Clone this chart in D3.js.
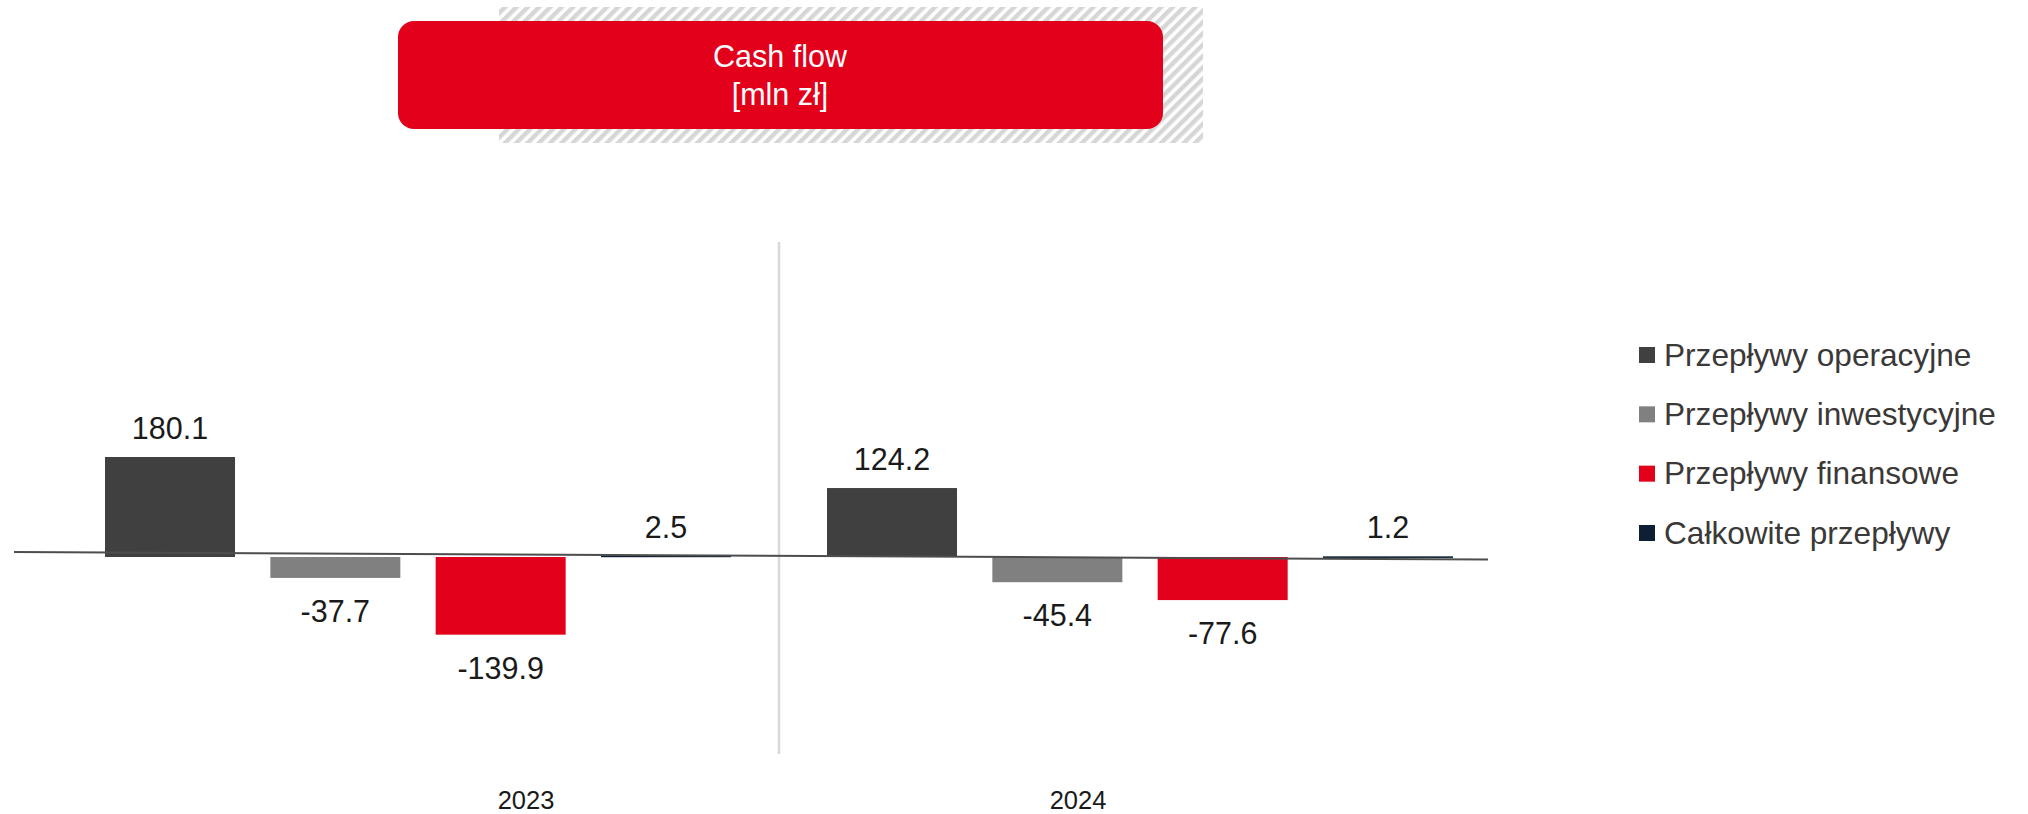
<!DOCTYPE html>
<html>
<head>
<meta charset="utf-8">
<script src="https://cdn.jsdelivr.net/npm/d3@7"></script>
<style>
  html, body { margin: 0; padding: 0; background: #ffffff; }
  svg { display: block; font-family: "Liberation Sans", Arial, sans-serif; }
</style>
</head>
<body>
<svg id="chart" width="2028" height="814"></svg>
<script>
// ---- data ----
const years = ["2023", "2024"];
const seriesNames = ["Przepływy operacyjne", "Przepływy inwestycyjne", "Przepływy finansowe", "Całkowite przepływy"];
const operacyjne = [180.1, 124.2];
const inwestycyjne = [-37.7, -45.4];
const finansowe = [-139.9, -77.6];
const calkowite = [2.5, 1.2];
const seriesColors = ["#404040", "#808080", "#e2001a", "#0c1f33"];
const titleLines = ["Cash flow", "[mln zł]"];

const seriesValues = [operacyjne, inwestycyjne, finansowe, calkowite];

const svg = d3.select("#chart");

// ---- title box ----
const defs = svg.append("defs");
const pat = defs.append("pattern")
  .attr("id", "hatch")
  .attr("patternUnits", "userSpaceOnUse")
  .attr("width", 8).attr("height", 8)
  .attr("patternTransform", "rotate(45)");
pat.append("rect").attr("width", 8).attr("height", 8).attr("fill", "#ffffff");
pat.append("rect").attr("width", 4.4).attr("height", 8).attr("fill", "#d6d6d6");

svg.append("rect")
  .attr("x", 499).attr("y", 7).attr("width", 704).attr("height", 136)
  .attr("fill", "url(#hatch)");
svg.append("rect")
  .attr("x", 398).attr("y", 21).attr("width", 765).attr("height", 108)
  .attr("rx", 16).attr("ry", 16)
  .attr("fill", "#e2001a");
svg.append("g").selectAll("text")
  .data(titleLines)
  .join("text")
  .attr("x", 780)
  .attr("y", (d, i) => 67 + i * 38)
  .attr("text-anchor", "middle")
  .attr("font-size", 30.5)
  .attr("fill", "#ffffff")
  .text(d => d);

// ---- scales ----
const x0 = d3.scaleBand()
  .domain(years)
  .range([57, 1501])
  .paddingInner(0.133)
  .paddingOuter(0.0665);

const x1 = d3.scaleBand()
  .domain(seriesNames)
  .range([0, x0.bandwidth()])
  .paddingInner(0.2136)
  .paddingOuter(0);

const y = d3.scaleLinear()
  .domain([-250, 250])
  .range([557 + 138.8, 557 - 138.8]);

const labelX = d3.scalePoint()
  .domain(years)
  .range([526, 1078]);

// ---- separator line ----
const sepX = (x0(years[0]) + x0.bandwidth() + x0(years[1])) / 2;
svg.append("line")
  .attr("x1", sepX).attr("x2", sepX)
  .attr("y1", 242).attr("y2", 754)
  .attr("stroke", "#d9d9d9").attr("stroke-width", 2.5);

// ---- bars ----
const cells = [];
years.forEach((yr, yi) => {
  seriesNames.forEach((s, si) => {
    cells.push({ year: yr, series: s, value: seriesValues[si][yi], color: seriesColors[si] });
  });
});

svg.append("g").selectAll("rect")
  .data(cells)
  .join("rect")
  .attr("x", d => x0(d.year) + x1(d.series))
  .attr("width", x1.bandwidth())
  .attr("y", d => Math.min(y(d.value), y(0)))
  .attr("height", d => Math.max(Math.abs(y(d.value) - y(0)), 1.6))
  .attr("fill", d => d.color);

// ---- zero line (slightly slanted as in original) ----
svg.append("line")
  .attr("x1", 14).attr("x2", 1488)
  .attr("y1", y(0) - 5).attr("y2", y(0) + 2.5)
  .attr("stroke", "#4d4d4d").attr("stroke-width", 2);

// ---- data labels ----
svg.append("g").selectAll("text")
  .data(cells)
  .join("text")
  .attr("x", d => x0(d.year) + x1(d.series) + x1.bandwidth() / 2)
  .attr("y", d => d.value >= 0 ? y(d.value) - 18 : y(d.value) + 44)
  .attr("text-anchor", "middle")
  .attr("font-size", 30.5)
  .attr("fill", "#1a1a1a")
  .text(d => d.value.toFixed(1));

// ---- category labels ----
svg.append("g").selectAll("text")
  .data(years)
  .join("text")
  .attr("x", d => labelX(d))
  .attr("y", 809)
  .attr("text-anchor", "middle")
  .attr("font-size", 25.5)
  .attr("fill", "#1a1a1a")
  .text(d => d);

// ---- legend ----
const legendY = d3.scalePoint().domain(seriesNames).range([355, 533]);
const lg = svg.append("g").selectAll("g")
  .data(seriesNames)
  .join("g")
  .attr("transform", d => `translate(1639, ${legendY(d)})`);
lg.append("rect")
  .attr("x", 0).attr("y", -8).attr("width", 16).attr("height", 16)
  .attr("fill", (d, i) => seriesColors[i]);
lg.append("text")
  .attr("x", 25).attr("y", 10.5)
  .attr("font-size", 31.6)
  .attr("fill", "#3b3838")
  .text(d => d);
</script>
</body>
</html>
